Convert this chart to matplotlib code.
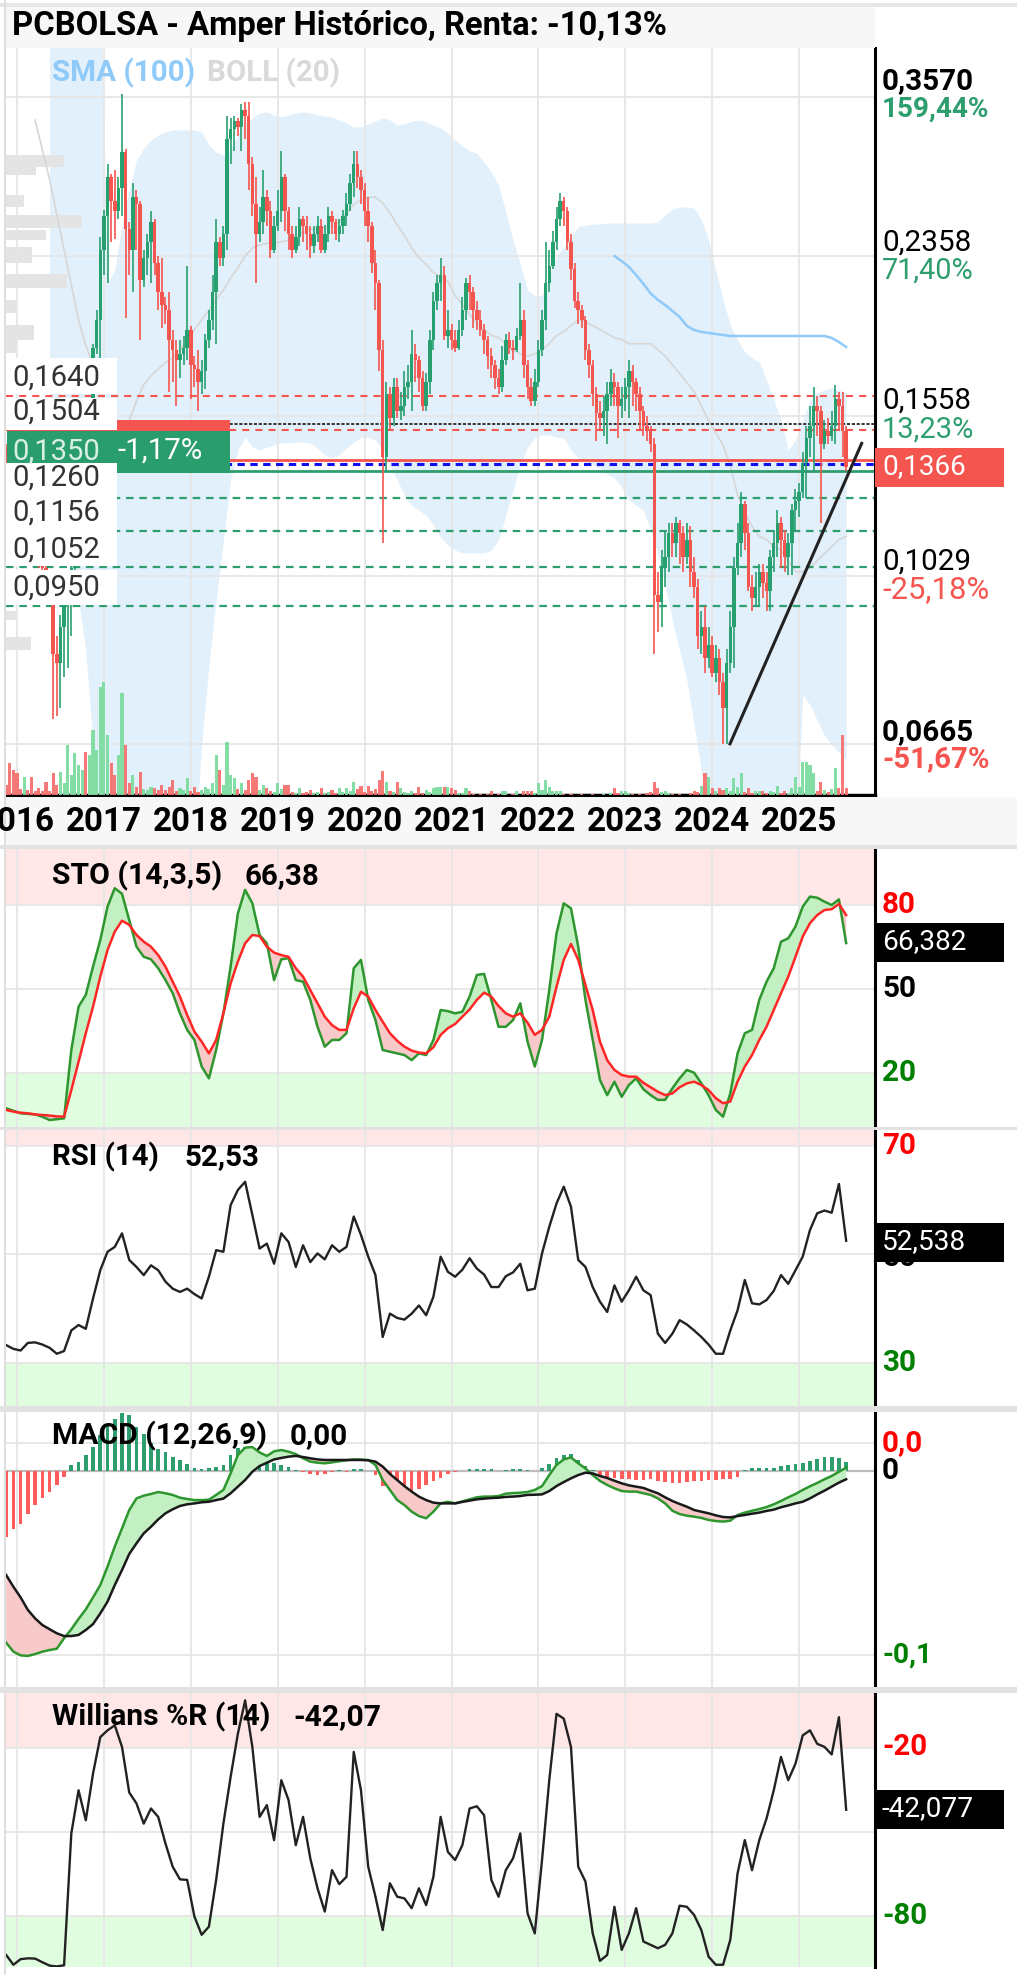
import numpy as np
import matplotlib
matplotlib.use("Agg")
import matplotlib.pyplot as plt
from matplotlib.patches import Rectangle
from matplotlib.ticker import FixedLocator, NullLocator, NullFormatter

# ---------------------------------------------------------------- data
title = "PCBOLSA - Amper Histórico, Renta: -10,13%"
years = list(range(2016, 2026))
candle_start = 2015.875          # semi-monthly candles
first_open = 0.143
closes = [
    0.140, 0.136, 0.132, 0.128, 0.125, 0.127, 0.120, 0.116, 0.112, 0.108,
    0.105, 0.102, 0.099, 0.084, 0.082, 0.090, 0.097, 0.098, 0.105, 0.112,
    0.118, 0.130, 0.127, 0.158, 0.186, 0.200, 0.240, 0.262, 0.290, 0.272,
    0.265, 0.282, 0.309, 0.253, 0.240, 0.275, 0.270, 0.222, 0.235, 0.245,
    0.258, 0.232, 0.215, 0.208, 0.205, 0.190, 0.185, 0.180, 0.183, 0.186,
    0.195, 0.178, 0.176, 0.170, 0.175, 0.190, 0.200, 0.215, 0.245, 0.235,
    0.250, 0.320, 0.328, 0.335, 0.330, 0.345, 0.340, 0.300, 0.270, 0.250,
    0.258, 0.275, 0.265, 0.240, 0.255, 0.265, 0.290, 0.265, 0.250, 0.240,
    0.248, 0.260, 0.255, 0.250, 0.242, 0.250, 0.255, 0.240, 0.250, 0.262,
    0.258, 0.250, 0.255, 0.262, 0.270, 0.285, 0.300, 0.290, 0.280, 0.265,
    0.255, 0.232, 0.220, 0.185, 0.140, 0.165, 0.155, 0.168, 0.158, 0.160,
    0.168, 0.170, 0.183, 0.180, 0.172, 0.160, 0.170, 0.190, 0.210, 0.220,
    0.225, 0.192, 0.195, 0.190, 0.186, 0.195, 0.205, 0.220, 0.215, 0.205,
    0.200, 0.195, 0.190, 0.182, 0.178, 0.172, 0.168, 0.180, 0.190, 0.186,
    0.185, 0.192, 0.200, 0.178, 0.168, 0.162, 0.170, 0.185, 0.200, 0.220,
    0.230, 0.245, 0.260, 0.272, 0.265, 0.245, 0.228, 0.210, 0.205, 0.200,
    0.185, 0.178, 0.165, 0.157, 0.155, 0.158, 0.165, 0.170, 0.168, 0.160,
    0.163, 0.168, 0.175, 0.170, 0.165, 0.158, 0.152, 0.150, 0.145, 0.098,
    0.096, 0.105, 0.108, 0.115, 0.112, 0.118, 0.115, 0.108, 0.113, 0.104,
    0.100, 0.088, 0.090, 0.083, 0.086, 0.080, 0.083, 0.078, 0.073, 0.082,
    0.090, 0.105, 0.112, 0.124, 0.115, 0.100, 0.097, 0.100, 0.104, 0.101,
    0.099, 0.108, 0.112, 0.118, 0.113, 0.108, 0.112, 0.122, 0.125, 0.128,
    0.138, 0.147, 0.152, 0.160, 0.158, 0.145, 0.150, 0.148, 0.152, 0.163,
    0.160, 0.150, 0.1366]
highs = [
    .145, .141, .137, .133, .130, .129, .128, .121, .117, .113,
    .109, .106, .103, .100, .088, .093, .100, .101, .108, .115,
    .121, .133, .134, .161, .188, .205, .248, .266, .300, .292,
    .295, .290, .360, .312, .258, .285, .280, .272, .240, .250,
    .265, .260, .236, .235, .212, .215, .195, .190, .190, .192,
    .230, .197, .182, .185, .180, .193, .205, .225, .260, .248,
    .255, .340, .338, .340, .338, .350, .352, .352, .305, .290,
    .268, .295, .280, .272, .262, .280, .310, .292, .268, .255,
    .255, .268, .262, .262, .255, .255, .262, .260, .256, .268,
    .265, .260, .260, .266, .278, .292, .310, .310, .295, .285,
    .275, .258, .240, .222, .190, .170, .168, .172, .172, .166,
    .175, .178, .195, .188, .182, .175, .174, .195, .215, .225,
    .235, .230, .205, .198, .195, .200, .212, .223, .225, .218,
    .210, .205, .198, .192, .186, .180, .176, .187, .193, .194,
    .190, .196, .220, .205, .180, .172, .176, .190, .205, .245,
    .240, .252, .268, .278, .275, .268, .250, .232, .215, .208,
    .202, .188, .180, .168, .162, .164, .170, .176, .174, .170,
    .168, .172, .180, .178, .172, .168, .160, .156, .152, .147,
    .104, .110, .116, .118, .118, .120, .119, .117, .118, .117,
    .108, .102, .094, .095, .090, .088, .086, .085, .080, .085,
    .094, .108, .118, .128, .125, .118, .103, .104, .106, .106,
    .104, .110, .116, .122, .120, .116, .115, .124, .129, .131,
    .142, .152, .160, .168, .164, .160, .154, .155, .158, .169,
    .166, .166, .152]
lows = [
    .137, .133, .129, .125, .122, .123, .117, .113, .109, .105,
    .102, .099, .096, .071, .0715, .073, .079, .081, .088, .103,
    .110, .116, .124, .125, .156, .183, .181, .225, .220, .245,
    .247, .260, .262, .201, .225, .215, .240, .190, .218, .225,
    .220, .225, .205, .196, .198, .166, .170, .160, .172, .178,
    .180, .163, .168, .158, .165, .167, .186, .195, .188, .230,
    .230, .240, .300, .310, .322, .310, .320, .280, .262, .220,
    .245, .250, .255, .235, .238, .252, .258, .252, .240, .235,
    .238, .242, .245, .240, .235, .238, .245, .238, .238, .245,
    .250, .246, .245, .250, .255, .265, .275, .282, .270, .255,
    .245, .226, .205, .175, .112, .135, .150, .152, .155, .154,
    .156, .163, .158, .170, .166, .158, .158, .165, .185, .205,
    .210, .190, .186, .185, .184, .185, .192, .200, .205, .196,
    .195, .192, .183, .176, .172, .167, .165, .166, .178, .183,
    .180, .184, .190, .172, .163, .160, .160, .168, .182, .195,
    .215, .228, .240, .255, .255, .240, .222, .206, .198, .196,
    .180, .172, .160, .146, .150, .148, .145, .160, .160, .147,
    .155, .158, .155, .160, .158, .150, .148, .146, .142, .084,
    .089, .090, .100, .104, .108, .108, .106, .104, .106, .100,
    .097, .085, .084, .080, .081, .079, .078, .0755, .0665, .0665,
    .080, .081, .103, .108, .110, .099, .094, .095, .095, .097,
    .094, .094, .104, .108, .105, .104, .103, .103, .116, .120,
    .126, .126, .140, .135, .148, .118, .143, .145, .146, .145,
    .150, .140, .135]
volumes = [
    10, 32, 25, 22, 6, 18, 5, 18, 4, 7,
    4, 13, 4, 22, 10, 23, 12, 50, 20, 42,
    30, 25, 43, 40, 65, 45, 108, 113, 60, 32,
    20, 40, 102, 50, 12, 20, 8, 23, 6, 5,
    8, 7, 5, 10, 5, 8, 15, 4, 7, 5,
    17, 4, 8, 3, 5, 8, 6, 12, 40, 25,
    10, 53, 20, 17, 6, 12, 5, 15, 22, 18,
    5, 10, 7, 4, 3, 12, 6, 10, 10, 3,
    2, 7, 2, 3, 5, 2, 3, 7, 2, 3,
    5, 2, 7, 3, 7, 4, 13, 6, 9, 3,
    9, 4, 6, 15, 24, 13, 4, 3, 13, 7,
    3, 2, 4, 2, 8, 2, 5, 3, 7, 8,
    8, 8, 8, 7, 5, 2, 2, 7, 4, 1,
    0, 1, 0, 1, 4, 0, 1, 4, 4, 0,
    1, 4, 0, 4, 4, 4, 2, 12, 5, 15,
    8, 4, 4, 4, 1, 0, 1, 0, 0, 1,
    0, 0, 1, 0, 0, 1, 0, 2, 7, 2,
    4, 4, 2, 1, 0, 1, 0, 2, 3, 13,
    7, 3, 4, 2, 1, 0, 1, 0, 0, 2,
    4, 3, 9, 22, 18, 7, 4, 7, 5, 7,
    4, 17, 8, 22, 3, 7, 2, 4, 4, 4,
    2, 4, 3, 9, 2, 4, 2, 7, 18, 8,
    33, 33, 30, 22, 4, 13, 5, 3, 6, 27,
    7, 60, 7]

month_start = 2015.875           # monthly indicator samples
nan = np.nan
boll_up = [nan] * 6 + [0.50] * 8 + [
    0.220, 0.2276, 0.2559, 0.2802, 0.3029, 0.3125, 0.3191, 0.3233, 0.3258, 0.3275,
    0.3275, 0.3275, 0.3275, 0.3258, 0.3150, 0.3093, 0.3069, 0.3109, 0.3233, 0.3335,
    0.3379, 0.3423, 0.3432, 0.3405, 0.3387, 0.3405, 0.3423, 0.3432, 0.3423, 0.3405,
    0.3396, 0.3387, 0.3361, 0.3335, 0.3301, 0.3301, 0.3326, 0.3352, 0.3379, 0.3361,
    0.3318, 0.3326, 0.3352, 0.3361, 0.3344, 0.3318, 0.3292, 0.3250, 0.3191, 0.3142,
    0.3101, 0.3085, 0.3014, 0.2936, 0.2839, 0.2647, 0.2461, 0.2306, 0.2161, 0.2128,
    0.2133, 0.2247, 0.2361, 0.2417, 0.2493, 0.2545, 0.2559, 0.2565, 0.2565, 0.2572,
    0.2572, 0.2572, 0.2572, 0.2572, 0.2572, 0.2572, 0.2579, 0.2626, 0.2667, 0.2681,
    0.2681, 0.2674, 0.2592, 0.2461, 0.2276, 0.2106, 0.1974, 0.1898, 0.1840, 0.1811,
    0.1793, 0.1711, 0.1624, 0.1542, 0.1426, 0.1464, 0.1542, 0.1624, 0.1654, 0.1667,
    0.1676, 0.1667, 0.1654]
boll_lo = [nan] * 6 + [0.1253, 0.1189, 0.1129, 0.1044, 0.0966, 0.0848, 0.0663] + [0.05] * 14 + [
    0.0663, 0.0816, 0.0966, 0.1129, 0.1319, 0.1426, 0.1475, 0.1437, 0.1426, 0.1437,
    0.1445, 0.1453, 0.1453, 0.1456, 0.1456, 0.1453, 0.1434, 0.1408, 0.1397, 0.1408,
    0.1434, 0.1456, 0.1472, 0.1475, 0.1464, 0.1426, 0.1372, 0.1319, 0.1269, 0.1236,
    0.1220, 0.1205, 0.1174, 0.1138, 0.1114, 0.1100, 0.1092, 0.1092, 0.1092, 0.1092,
    0.1100, 0.1129, 0.1205, 0.1286, 0.1372, 0.1437, 0.1472, 0.1483, 0.1483, 0.1475,
    0.1472, 0.1426, 0.1397, 0.1383, 0.1372, 0.1361, 0.1340, 0.1326, 0.1296, 0.1253,
    0.1236, 0.1220, 0.1159, 0.1086, 0.1004, 0.0917, 0.0848, 0.0785, 0.0698, 0.0621] + [0.05] * 13 + [
    0.0755, 0.0736, 0.0707, 0.0680, 0.0663, 0.0651, 0.0638]
boll_mid = [nan] * 4 + [
    0.336, 0.311, 0.288, 0.263, 0.240, 0.219, 0.200, 0.187, 0.178, 0.167,
    0.156, 0.150, 0.148, 0.154, 0.162, 0.169, 0.173, 0.176, 0.179, 0.181,
    0.185, 0.190, 0.195, 0.200, 0.205, 0.211, 0.216, 0.223, 0.229, 0.236,
    0.241, 0.243, 0.244, 0.244, 0.245, 0.246, 0.249, 0.251, 0.253, 0.254,
    0.254, 0.255, 0.258, 0.264, 0.270, 0.273, 0.275, 0.275, 0.271, 0.264,
    0.256, 0.249, 0.241, 0.235, 0.231, 0.226, 0.224, 0.221, 0.213, 0.208,
    0.203, 0.198, 0.195, 0.192, 0.191, 0.188, 0.185, 0.183, 0.182, 0.183,
    0.185, 0.188, 0.192, 0.194, 0.197, 0.200, 0.199, 0.197, 0.195, 0.193,
    0.191, 0.190, 0.188, 0.188, 0.188, 0.188, 0.185, 0.182, 0.178, 0.174,
    0.170, 0.166, 0.160, 0.154, 0.149, 0.1445, 0.137, 0.127, 0.121, 0.117,
    0.114, 0.113, 0.111, 0.110, 0.107, 0.104, 0.104, 0.105, 0.107, 0.109,
    0.111, 0.113, 0.114]
sma100 = [nan] * 84 + [
    0.2361, 0.2330, 0.2295, 0.2247, 0.2196, 0.2142, 0.2106, 0.2079, 0.2047, 0.2015,
    0.1969, 0.1948, 0.1938, 0.1933, 0.1928, 0.1923] + [0.1918] * 14 + [0.1908, 0.1888, 0.1864]

sto_k = [
    7.4, 6.5, 5.6, 5.4, 5.2, 4.4, 3.2, 3.5, 3.8, 28.2,
    43.7, 47.9, 58.0, 67.5, 79.4, 86.0, 84.0, 74.6, 65.1, 61.5,
    60.6, 57.4, 53.2, 48.5, 41.3, 35.4, 31.8, 22.3, 18.1, 28.2,
    41.3, 58.0, 77.0, 85.4, 80.6, 69.3, 66.3, 53.2, 60.6, 61.0,
    53.2, 52.6, 46.1, 36.5, 29.4, 31.8, 31.8, 34.2, 57.4, 60.4,
    46.1, 38.9, 28.2, 27.6, 27.0, 26.4, 24.6, 27.0, 26.4, 31.8,
    42.5, 42.1, 41.3, 41.9, 47.3, 55.0, 55.4, 46.1, 36.5, 36.5,
    38.9, 44.9, 31.2, 22.3, 31.8, 49.6, 69.9, 80.6, 78.8, 65.1,
    46.1, 31.8, 17.5, 12.1, 16.9, 11.5, 15.7, 18.1, 14.2, 12.1,
    10.4, 10.4, 14.5, 18.1, 21.1, 20.1, 16.3, 12.1, 6.8, 4.4,
    12.7, 27.0, 34.2, 35.4, 46.1, 52.6, 57.4, 66.9, 68.1, 72.3,
    79.4, 83.0, 82.6, 81.2, 80.0, 82.0, 66.4]
sto_d = [
    6.8, 6.2, 5.8, 5.6, 5.2, 5.0, 4.8, 4.5, 4.4, 13.9,
    24.0, 34.2, 43.7, 54.4, 63.9, 70.5, 74.4, 72.9, 69.3, 66.9,
    65.1, 62.1, 58.0, 52.6, 47.3, 40.7, 34.8, 31.2, 27.0, 31.8,
    41.3, 52.0, 59.8, 66.3, 69.3, 68.9, 65.1, 63.0, 62.1, 61.5,
    57.4, 54.4, 49.6, 44.9, 40.1, 37.1, 35.4, 35.4, 43.1, 49.0,
    47.3, 42.5, 38.3, 34.2, 31.5, 29.4, 28.0, 27.3, 27.0, 29.2,
    33.6, 36.0, 37.5, 40.1, 42.7, 46.1, 48.7, 47.3, 43.9, 41.3,
    40.1, 41.3, 38.0, 33.6, 35.4, 40.1, 50.8, 60.4, 66.1, 60.4,
    51.4, 42.5, 31.2, 24.6, 21.1, 19.3, 18.7, 18.7, 16.5, 14.9,
    13.3, 12.1, 12.7, 14.9, 16.3, 16.9, 15.7, 13.9, 11.0, 9.2,
    9.8, 16.9, 22.3, 26.4, 31.8, 36.5, 42.5, 48.5, 54.4, 61.5,
    68.7, 73.5, 76.4, 78.2, 78.5, 80.4, 76.4]
rsi = [
    33.3, 32.6, 32.3, 33.7, 33.8, 33.4, 32.8, 31.7, 32.2, 36.0,
    37.0, 36.3, 41.9, 47.1, 50.5, 51.4, 53.9, 49.0, 47.7, 46.2,
    48.0, 47.1, 45.0, 43.7, 43.1, 43.7, 42.7, 41.9, 45.9, 50.8,
    50.5, 59.1, 61.9, 63.4, 57.3, 51.1, 52.0, 48.3, 53.9, 52.3,
    47.7, 51.7, 48.6, 50.2, 49.1, 51.7, 50.5, 51.4, 57.0, 53.6,
    49.6, 46.2, 34.8, 39.1, 38.3, 38.0, 39.1, 40.6, 38.8, 42.2,
    49.6, 46.8, 45.9, 47.2, 49.3, 47.4, 46.3, 44.0, 44.0, 46.0,
    46.7, 48.3, 43.4, 43.7, 50.2, 55.1, 59.4, 62.5, 58.8, 49.0,
    47.7, 44.0, 41.3, 39.4, 44.3, 41.3, 43.4, 45.9, 43.4, 42.5,
    35.4, 33.7, 35.4, 37.9, 37.1, 36.0, 34.8, 33.4, 31.7, 31.7,
    36.0, 39.7, 45.3, 41.0, 40.8, 41.6, 43.3, 46.2, 44.6, 47.1,
    49.6, 54.5, 57.6, 58.1, 57.7, 63.0, 52.53]
macd_line = [v / 1000 for v in [
    -93.3, -98.2, -100.2, -100.5, -99.5, -98.2, -97.3, -96.6, -90.9, -86.0,
    -80.4, -75.2, -68.7, -62.0, -52.0, -41.1, -31.2, -21.2, -14.9, -13.4,
    -12.5, -11.4, -12.1, -13.0, -14.5, -15.2, -15.8, -15.8, -15.6, -13.0,
    -10.3, -1.3, 8.7, 12.7, 13.0, 10.1, 8.2, 10.7, 11.4, 10.5,
    9.2, 6.9, 5.1, 4.5, 4.2, 4.7, 5.3, 5.8, 6.3, 6.2,
    6.0, 3.3, -4.9, -10.3, -15.8, -18.5, -22.1, -24.5, -25.7, -22.1,
    -17.6, -16.7, -17.6, -16.5, -15.4, -14.3, -13.9, -13.9, -13.6, -12.3,
    -12.0, -11.8, -11.4, -10.3, -8.2, -2.2, 3.3, 6.3, 7.4, 4.2,
    1.4, -2.2, -5.4, -7.6, -9.4, -10.9, -11.2, -11.2, -12.1, -13.0,
    -14.9, -17.6, -21.6, -23.4, -24.3, -24.8, -25.5, -26.6, -27.2, -27.5,
    -27.0, -23.9, -22.6, -21.6, -20.7, -19.6, -18.1, -16.3, -14.3, -12.5,
    -10.3, -8.3, -6.5, -4.5, -2.7, -0.4, 1.8]]
macd_signal = [v / 1000 for v in [
    -56.5, -62.9, -68.7, -75.5, -80.1, -83.7, -86.0, -88.2, -89.7, -89.7,
    -89.1, -86.4, -83.2, -77.4, -71.0, -62.0, -53.8, -45.1, -39.3, -33.9,
    -30.3, -26.3, -23.0, -20.8, -19.0, -18.1, -17.6, -17.0, -16.7, -15.8,
    -15.0, -12.1, -8.5, -4.9, -0.4, 2.7, 4.5, 6.3, 7.1, 7.8,
    8.2, 7.6, 6.9, 6.3, 6.0, 6.0, 6.0, 6.0, 6.0, 6.0,
    5.8, 5.1, 2.4, -1.6, -4.9, -8.2, -11.2, -13.9, -15.8, -17.2,
    -17.6, -17.6, -17.6, -16.8, -16.1, -15.4, -15.0, -14.7, -14.5, -14.1,
    -13.9, -13.6, -13.0, -12.9, -12.7, -10.9, -8.2, -6.0, -4.0, -2.2,
    -0.9, -1.3, -2.7, -3.8, -5.3, -6.7, -7.8, -8.5, -9.2, -10.7,
    -12.1, -14.3, -16.3, -17.9, -19.4, -21.2, -22.1, -23.0, -24.1, -25.0,
    -25.2, -24.5, -23.9, -23.2, -22.6, -21.7, -21.0, -19.7, -18.7, -17.6,
    -16.7, -14.9, -12.7, -10.7, -8.5, -6.3, -4.5]]
macd_hist = [v / 1000 for v in [
    -35.7, -31.7, -28.8, -23.6, -18.7, -14.5, -11.4, -7.6, -3.4, 3.3,
    5.1, 8.7, 13.2, 19.6, 25.0, 28.1, 31.3, 30.4, 24.1, 20.1,
    15.0, 12.0, 10.5, 7.8, 6.0, 3.8, 1.6, 0.9, 1.4, 2.4,
    3.3, 8.7, 12.7, 13.2, 12.7, 8.7, 6.0, 4.2, 3.3, 2.0,
    0.5, -0.5, -1.6, -2.2, -1.6, -0.4, 0.5, -0.5, 0.9, 0.9,
    0.2, -2.2, -8.2, -10.3, -11.4, -11.4, -10.7, -9.6, -7.8, -5.6,
    -3.8, -1.6, -0.5, 0.2, 1.3, 1.3, 1.3, 0.9, 0.2, 0.5,
    1.3, 1.3, 0.5, 0.2, 1.4, 3.8, 6.9, 8.9, 9.2, 6.0,
    2.7, 0.5, -2.4, -3.1, -3.6, -4.2, -4.5, -4.9, -4.7, -4.5,
    -5.6, -6.2, -6.5, -6.7, -6.0, -5.6, -5.3, -5.1, -4.9, -4.5,
    -4.3, -3.1, 0.5, 1.4, 1.4, 1.6, 1.8, 2.7, 3.3, 3.8,
    4.2, 5.6, 6.7, 7.4, 7.4, 7.1, 5.1]]
williams = [
    -93.9, -97.4, -95.4, -95.1, -95.2, -96.5, -97.7, -98.0, -97.6, -50.5,
    -35.1, -45.8, -29.1, -16.1, -13.7, -11.9, -19.6, -35.9, -39.8, -47.0,
    -41.6, -44.6, -54.1, -62.4, -66.9, -67.1, -80.2, -86.7, -83.8, -67.1,
    -47.0, -30.3, -14.9, -3.0, -19.6, -44.6, -40.4, -52.9, -31.5, -38.6,
    -54.7, -44.6, -59.4, -70.1, -78.4, -63.6, -68.6, -66.0, -21.4, -35.1,
    -62.4, -73.1, -85.0, -68.3, -73.1, -73.7, -77.2, -70.1, -76.1, -66.0,
    -44.6, -57.1, -60.0, -54.7, -41.6, -40.8, -44.0, -67.1, -73.1, -63.6,
    -59.4, -50.5, -79.0, -86.2, -60.0, -31.5, -7.8, -9.5, -19.6, -62.4,
    -67.7, -86.2, -96.0, -93.9, -76.7, -92.1, -86.2, -77.2, -89.1, -90.3,
    -91.5, -90.3, -86.2, -76.3, -76.7, -79.6, -85.0, -94.5, -97.4, -97.4,
    -88.5, -64.8, -52.9, -63.6, -52.9, -45.2, -35.1, -23.2, -31.5, -25.6,
    -15.5, -13.7, -18.5, -19.6, -22.3, -9.0, -42.07]

# horizontal price levels
grid_prices = [0.0665, 0.1029, 0.1558, 0.2358, 0.3570]
right_labels = [("0,3570", "159,44%", "bold", "#2e9e6e", 81, 109),
                ("0,2358", "71,40%", "normal", "#2e9e6e", 243, 271),
                ("0,1558", "13,23%", "normal", "#2e9e6e", 401, 430),
                ("0,1029", "-25,18%", "normal", "#f5554f", 562, 590),
                ("0,0665", "-51,67%", "bold", "#f5554f", 732, 759)]
resistances = [0.1640, 0.1504]
supports = [0.1260, 0.1156, 0.1052, 0.0950]
prev_close = 0.1527
reference = 0.1376
red_level = 0.1388
green_level = 0.1350
last_price = 0.1366
trend_t = [2024.205, 2025.72]
trend_p = [0.0665, 0.1451]
vp_lo = [0.2978, 0.2915, 0.2681, 0.2541, 0.2461, 0.2321, 0.2175, 0.2036, 0.1899, 0.1837, 0.0918, 0.0849]
vp_hi = [0.3069, 0.2978, 0.2766, 0.2626, 0.2526, 0.2417, 0.2254, 0.2106, 0.1974, 0.1898, 0.0939, 0.0878]
vp_len = [58, 30, 18, 76, 40, 26, 61, 10, 28, 10, 10, 25]

# ---------------------------------------------------------------- figure
W, H = 1017, 1975
plt.rcParams['font.family'] = ['Roboto', 'DejaVu Sans']
fig = plt.figure(figsize=(W / 100, H / 100), dpi=100)
fig.patch.set_facecolor('white')

GREEN = '#27a06f'
RED = '#f5554f'
X0 = 2016 + (6 - 17) / 86.9
X1 = 2016 + (875 - 17) / 86.9


def frect(x0, y0, x1, y1, color, z=2):
    fig.add_artist(Rectangle((x0 / W, 1 - y1 / H), (x1 - x0) / W, (y1 - y0) / H,
                             transform=fig.transFigure, facecolor=color,
                             edgecolor='none', zorder=z))


fits = []


def label(x, y, s, width=None, size=20, color='#111111', weight='normal', ha='left', z=6):
    t = fig.text(x / W, 1 - y / H, s, fontsize=size, color=color, fontweight=weight,
                 ha=ha, va='center', zorder=z)
    if width:
        fits.append((t, width))
    return t


def make_ax(y0, y1):
    return fig.add_axes([6 / W, 1 - y1 / H, 869 / W, (y1 - y0) / H])


def style(a, yticks):
    a.set_xlim(X0, X1)
    a.xaxis.set_major_locator(FixedLocator(years))
    a.yaxis.set_major_locator(FixedLocator(yticks))
    a.xaxis.set_minor_locator(NullLocator())
    a.yaxis.set_minor_locator(NullLocator())
    a.yaxis.set_minor_formatter(NullFormatter())
    a.grid(True, color='#e6e6e6', lw=1.3)
    a.set_axisbelow(True)
    a.tick_params(which='both', length=0, labelleft=False, labelbottom=False)
    for s in ('left', 'top', 'bottom'):
        a.spines[s].set_visible(False)
    a.spines['right'].set_color('black')
    a.spines['right'].set_linewidth(2.2)


# background bands
frect(0, 3, W, 7, '#e6e6e6', 1)
frect(6, 7, 875, 48, '#f7f7f7', 1)
frect(4, 0, 6, H, '#dedede', 1)
frect(6, 797, W, 845, '#f7f7f7', 1)
frect(0, 845, W, 849, '#e2e2e2', 1)
frect(0, 1127, W, 1130, '#e2e2e2', 1)
frect(0, 1406, W, 1412, '#e2e2e2', 1)
frect(0, 1687, W, 1693, '#e2e2e2', 1)

# ---------------------------------------------------------------- main panel
N = len(closes)
tc = candle_start + np.arange(N) / 24.0
c = np.array(closes)
o = np.r_[first_open, c[:-1]]
hi = np.array(highs)
lo = np.array(lows)
up = c >= o
ccol = np.where(up, GREEN, RED)

M = len(sto_k)
tm = month_start + np.arange(M) / 12.0

ax = make_ax(48, 795)
ax.set_yscale('log')
style(ax, grid_prices)
ax.set_ylim(0.05822, 0.4052)
ax.spines['bottom'].set_visible(True)
ax.spines['bottom'].set_color('black')
ax.spines['bottom'].set_linewidth(2.5)

ax.fill_between(tm, np.array(boll_lo), np.array(boll_up), color='#e1f0fb', lw=0, zorder=0.3)
ax.plot(tm, boll_mid, color='#d6d6d6', lw=1.2, zorder=1)
ax.plot(tm, sma100, color='#90caf9', lw=1.8, zorder=1)
for lo_, hi_, ln in zip(vp_lo, vp_hi, vp_len):
    ax.axhspan(lo_, hi_, xmin=0, xmax=ln / 869, color='#e4e4e4', lw=0, zorder=0.4)

for p in resistances:
    ax.axhline(p, color=RED, lw=1.5, ls=(0, (3.4, 2.9)), zorder=2)
for p in supports:
    ax.axhline(p, color='#2e9e6e', lw=1.6, ls=(0, (3.4, 2.6)), zorder=2)
ax.axhline(prev_close, color='#333333', lw=1.4, ls=(0, (1.6, 0.9)), zorder=2)
ax.axhline(red_level, color=RED, lw=2.0, zorder=2)
ax.axhline(green_level, color='#2e9e6e', lw=2.0, zorder=2)
ax.axhline(reference, color='#1010ee', lw=2.2, ls=(0, (2.4, 1.8)), zorder=2.1)

body_bottom = np.minimum(o, c)
body_h = np.maximum(np.abs(c - o), 0.004 * c)
ax.vlines(tc, lo, hi, colors=ccol, lw=1.2, zorder=3)
ax.bar(tc, body_h, bottom=body_bottom, width=0.040, color=ccol, lw=0, zorder=4)
ax.plot(trend_t, trend_p, color='#222222', lw=2.2, zorder=5)

axv = ax.twinx()
axv.set_ylim(0, 747)
axv.set_xlim(X0, X1)
axv.axis('off')
vcol = np.where(up, '#7ddca0', '#f57370')
axv.bar(tc, volumes, width=0.036, color=vcol, lw=0, alpha=0.95)

# ---------------------------------------------------------------- STO
sto = make_ax(849, 1127)
style(sto, [20, 50, 80])
sto.set_ylim(0.714, 100)
sto.axhspan(80, 100, color='#ffe7e7', lw=0, zorder=0.2)
sto.axhspan(0, 20, color='#e0fde0', lw=0, zorder=0.2)
k = np.array(sto_k)
d = np.array(sto_d)
sto.fill_between(tm, k, d, where=k >= d, interpolate=True, color='#c2f0c2', lw=0, zorder=1)
sto.fill_between(tm, k, d, where=k < d, interpolate=True, color='#f7c9c9', lw=0, zorder=1)
sto.plot(tm, k, color='#2e962e', lw=1.8, zorder=3)
sto.plot(tm, d, color='#ff2626', lw=1.8, zorder=3)

# ---------------------------------------------------------------- RSI
rs = make_ax(1130, 1406)
style(rs, [30, 50, 70])
rs.set_ylim(22.07, 72.95)
rs.axhspan(70, 80, color='#ffe7e7', lw=0, zorder=0.2)
rs.axhspan(0, 30, color='#e0fde0', lw=0, zorder=0.2)
rs.plot(tm, rsi, color='#222222', lw=1.7, zorder=3)

# ---------------------------------------------------------------- MACD
mc = make_ax(1412, 1687)
style(mc, [-0.1, 0.015])
mc.set_ylim(-0.11739, 0.03207)
mc.axhline(0, color='#bdbdbd', lw=1.6, zorder=0.6)
hcol = np.where(np.array(macd_hist) >= 0, '#2e9e6e', '#ff5c5c')
mc.bar(tm, macd_hist, width=0.042, color=hcol, lw=0, zorder=1)
ml = np.array(macd_line)
ms = np.array(macd_signal)
mc.fill_between(tm, ml, ms, where=ml >= ms, interpolate=True, color='#c2f0c2', lw=0, zorder=1.5)
mc.fill_between(tm, ml, ms, where=ml < ms, interpolate=True, color='#f7c9c9', lw=0, zorder=1.5)
mc.plot(tm, ml, color='#2e962e', lw=1.8, zorder=3)
mc.plot(tm, ms, color='#1a1a1a', lw=1.8, zorder=3)

# ---------------------------------------------------------------- Williams %R
wr = make_ax(1693, 1967)
style(wr, [-80, -50, -20])
wr.set_ylim(-98.2, -0.36)
wr.axhspan(-20, 0, color='#ffe7e7', lw=0, zorder=0.2)
wr.axhspan(-100, -80, color='#e0fde0', lw=0, zorder=0.2)
wr.plot(tm, williams, color='#222222', lw=1.7, zorder=3)

# ---------------------------------------------------------------- overlay boxes (left labels)
frect(7, 420, 230, 432, RED, 2)
frect(7, 431, 230, 473, '#2a9d6f', 2.1)
frect(6, 358, 117, 394, 'white', 2.2)
frect(6, 398, 117, 430, 'white', 2.2)
frect(6, 463, 117, 566, 'white', 2.2)
frect(6, 570, 117, 605, 'white', 2.2)
frect(875, 448, 1004, 487, RED, 2)
frect(875, 923, 1004, 962, 'black', 2)
frect(875, 1223, 1004, 1262, 'black', 2)
frect(875, 1790, 1004, 1829, 'black', 2)

# ---------------------------------------------------------------- texts
label(12, 26, title, width=658, size=18, weight='bold', color='black')
label(52, 73, "SMA (100)", width=143, size=16, weight='bold', color='#90caf9')
label(207, 73, "BOLL (20)", width=133, size=16, weight='bold', color='#d9d9d9')

for p_txt, pc_txt, wgt, pcol, y1, y2 in right_labels:
    label(882, y1, p_txt, width=92 if wgt == 'bold' else 89, weight=wgt, color='black')
    label(882, y2, pc_txt, width=len(pc_txt) * 15.3, weight=wgt, color=pcol)

for txt, y in [("0,1640", 378), ("0,1504", 412), ("0,1260", 478), ("0,1156", 513),
               ("0,1052", 550), ("0,0950", 588)]:
    label(12, y, txt, width=88, color='#333333', z=6)
label(12, 452, "0,1350", width=88, color='#d8efe4', z=5)
label(117, 451, "-1,17%", width=85, color='white', z=6)
label(882, 467, "0,1366", width=84, color='white')

label(52, 876, "STO (14,3,5)", width=169, weight='bold', color='black')
label(244, 876, "66,38", width=75, weight='bold', color='black')
label(52, 1157, "RSI (14)", width=107, weight='bold', color='black')
label(185, 1157, "52,53", width=75, weight='bold', color='black')
label(52, 1436, "MACD (12,26,9)", width=215, weight='bold', color='black')
label(290, 1436, "0,00", width=58, weight='bold', color='black')
label(52, 1717, "Willians %R (14)", width=218, weight='bold', color='black')
label(293, 1717, "-42,07", width=88, weight='bold', color='black')

label(882, 942, "66,382", width=84, color='white', z=7)
label(882, 1242, "52,538", width=84, color='white', z=7)
label(882, 1809, "-42,077", width=92, color='white', z=7)

label(882, 905, "80", width=34, weight='bold', color='#ff0000')
label(882, 989, "50", width=34, weight='bold', color='black')
label(882, 1073, "20", width=34, weight='bold', color='#008000')
label(882, 1146, "70", width=34, weight='bold', color='#ff0000')
label(882, 1258, "50", width=34, weight='bold', color='black', z=1.5)
label(882, 1363, "30", width=34, weight='bold', color='#008000')
label(882, 1443, "0,0", width=41, weight='bold', color='#ff0000')
label(882, 1471, "0", width=17, weight='bold', color='black')
label(882, 1655, "-0,1", width=50, weight='bold', color='#008000')
label(882, 1747, "-20", width=45, weight='bold', color='#ff0000')
label(882, 1916, "-80", width=45, weight='bold', color='#008000')

for yr in years:
    label(17 + 86.9 * (yr - 2016), 822, str(yr), width=76, weight='bold', color='black', ha='center')

renderer = fig.canvas.get_renderer()
for t, w in fits:
    bb = t.get_window_extent(renderer=renderer)
    if bb.width > 0:
        t.set_fontsize(t.get_fontsize() * w / bb.width)

fig.savefig('out.png', dpi=100, facecolor='white')
